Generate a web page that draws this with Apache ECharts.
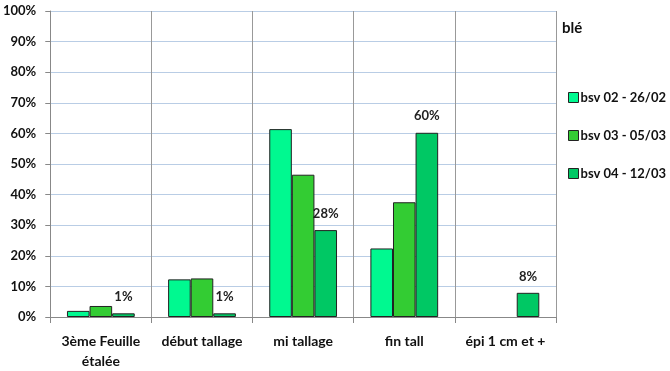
<!DOCTYPE html>
<html>
<head>
<meta charset="utf-8">
<script src="https://cdn.jsdelivr.net/npm/echarts@6/dist/echarts.min.js"></script>
<style>
  html, body { margin: 0; padding: 0; background: #fff; }
  #chart1 { width: 670px; height: 371px; }
</style>
</head>
<body>
<div id="chart1"></div>
<script>
var categories = ['3ème Feuille\nétalée', 'début tallage', 'mi tallage', 'fin tall', 'épi 1 cm et +'];
var seriesNames = ['bsv 02 - 26/02', 'bsv 03 - 05/03', 'bsv 04 - 12/03'];
var bsv02 = [0.02, 0.123, 0.614, 0.224, null];
var bsv03 = [0.036, 0.126, 0.465, 0.375, null];
var bsv04 = [0.012, 0.012, 0.284, 0.602, 0.079];
var yTicks = [0, 0.1, 0.2, 0.3, 0.4, 0.5, 0.6, 0.7, 0.8, 0.9, 1];

var fontName = 'Lato';
var colors = ['#00f990', '#33cc33', '#00c864'];

function barSeries(name, data, color, showLabel){
  return {
    name: name,
    type: 'bar',
    data: data,
    barGap: '0%',
    barCategoryGap: '33%',
    itemStyle: { color: color, borderColor: '#222', borderWidth: 1 },
    label: {
      show: showLabel,
      position: 'top',
      distance: 10,
      fontFamily: fontName,
      fontWeight: 'bold',
      fontSize: 13,
      color: '#222',
      formatter: function(p){ return Math.round(p.value * 100) + '%'; }
    }
  };
}

var chartDom = document.getElementById('chart1');
var myChart = echarts.init(chartDom);
var option;

option = {
  animation: false,
  textStyle: { fontFamily: fontName },
  title: {
    text: 'blé',
    left: 557,
    top: 16,
    textStyle: { fontFamily: fontName, fontWeight: 'bold', fontSize: 15, color: '#111' }
  },
  legend: {
    orient: 'vertical',
    left: 568,
    top: 91,
    padding: 0,
    itemGap: 25,
    itemWidth: 10,
    itemHeight: 10,
    icon: 'rect',
    itemStyle: { borderColor: '#222', borderWidth: 1 },
    data: seriesNames,
    textStyle: { fontFamily: fontName, fontWeight: 'bold', fontSize: 13, color: '#111', padding: [0, 0, 0, -3] }
  },
  grid: { left: 48, right: 114, top: 11, bottom: 54 },
  xAxis: {
    type: 'category',
    data: categories,
    axisLine: { lineStyle: { color: '#888' } },
    axisTick: { show: true, length: 6, lineStyle: { color: '#888' } },
    splitLine: { show: true, lineStyle: { color: '#999', width: 1 } },
    axisLabel: {
      fontFamily: fontName,
      fontWeight: 'bold',
      fontSize: 14,
      color: '#111',
      margin: 14,
      lineHeight: 20,
      interval: 0
    }
  },
  yAxis: {
    type: 'value',
    min: 0,
    max: 1,
    interval: 0.1,
    axisLine: { show: true, lineStyle: { color: '#888' } },
    axisTick: { show: true, length: 5, lineStyle: { color: '#888' } },
    splitLine: { lineStyle: { color: '#b9cde5', width: 1 } },
    axisLabel: {
      fontFamily: fontName,
      fontWeight: 'bold',
      fontSize: 13,
      color: '#111',
      margin: 14,
      formatter: function(v){ return Math.round(v * 100) + '%'; },
      customValues: yTicks
    }
  },
  series: [
    barSeries(seriesNames[0], bsv02, colors[0], false),
    barSeries(seriesNames[1], bsv03, colors[1], false),
    barSeries(seriesNames[2], bsv04, colors[2], true)
  ]
};

option && myChart.setOption(option);
</script>
</body>
</html>
